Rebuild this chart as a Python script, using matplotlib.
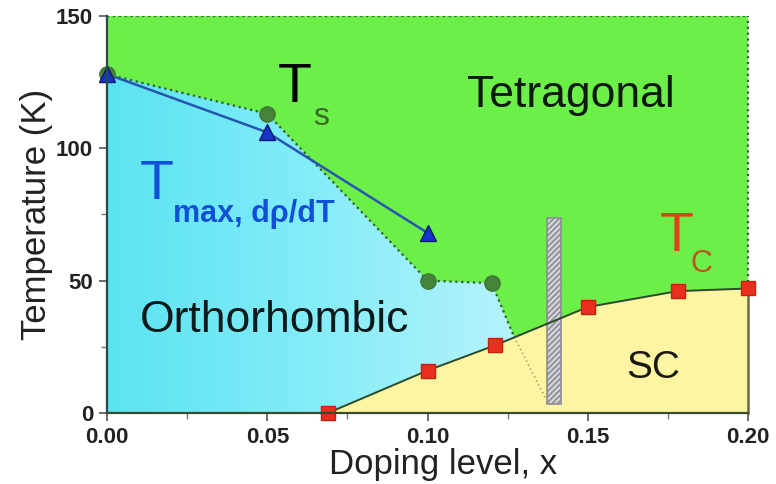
import matplotlib
matplotlib.use("Agg")
import matplotlib.pyplot as plt
from matplotlib.patches import Polygon, Rectangle
from matplotlib.colors import LinearSegmentedColormap
from matplotlib.ticker import MultipleLocator, FormatStrFormatter
import numpy as np

plt.rcParams["font.family"] = ["Liberation Sans", "DejaVu Sans"]
plt.rcParams["hatch.color"] = "#8c8c94"
plt.rcParams["hatch.linewidth"] = 1.2

# structural transition T_s (green circles)
ts_x = [0.0, 0.05, 0.10, 0.12]
ts_t = [128, 113, 50, 49]
# T_s boundary continues down into the SC dome and fades out
ts_tail_x = [0.12, 0.127, 0.137]
ts_tail_t = [49, 28.7, 5]

# maximum of d rho / dT (blue triangles)
tmax_x = [0.0, 0.05, 0.10]
tmax_t = [128, 106, 68]

# superconducting T_c (red squares)
tc_x = [0.069, 0.10, 0.121, 0.15, 0.178, 0.20]
tc_t = [0, 16, 25.5, 40, 46, 47]

# hatched bar (x range, T range)
bar_x = [0.1373, 0.1417]
bar_t = [3.5, 73.5]

fig = plt.figure(figsize=(7.76, 4.84), dpi=100)
ax = fig.add_axes([0.138, 0.147, 0.826, 0.82])
ax.set_xlim(0, 0.20)
ax.set_ylim(0, 150)
ax.set_facecolor("#6cef48")

# orthorhombic region (cyan gradient clipped to polygon)
x_meet, t_meet = ts_tail_x[1], ts_tail_t[1]
orth = [(0, 0)]
orth += [(x, t) for x, t in zip(tc_x, tc_t) if x < x_meet]
orth += [(x_meet, t_meet), (ts_tail_x[0], ts_tail_t[0])]
orth += list(zip(ts_x, ts_t))[::-1]
orth_patch = Polygon(orth, closed=True, facecolor="none", edgecolor="none")
ax.add_patch(orth_patch)
cmap = LinearSegmentedColormap.from_list("orth", ["#5ae3f2", "#84edf8", "#b8f3fb"])
grad = np.linspace(0, 1, 256).reshape(1, -1)
im = ax.imshow(grad, cmap=cmap, extent=[0, 0.13, 0, 130], aspect="auto",
               origin="lower", zorder=1)
im.set_clip_path(orth_patch)

# superconducting dome
sc = list(zip(tc_x, tc_t)) + [(tc_x[-1], 0)]
ax.add_patch(Polygon(sc, closed=True, facecolor="#fef5a2", edgecolor="none", zorder=1.5))

# hatched bar
ax.add_patch(Rectangle((bar_x[0], bar_t[0]), bar_x[1] - bar_x[0], bar_t[1] - bar_t[0],
                       facecolor="#d4d4da", edgecolor="#8c8c94", hatch="//////",
                       lw=1.2, zorder=3))

# borders of the green region
ax.axhline(150, color="#3b5a3b", ls=":", lw=1.6, zorder=2)
ax.plot([0.2, 0.2], [tc_t[-1], 150], color="#3b5a3b", ls=":", lw=1.6, zorder=2,
        clip_on=False)
ax.plot([0.2, 0.2], [0, tc_t[-1]], color="#6a6a50", lw=1.8, zorder=2, clip_on=False)

# T_s boundary
ax.plot(ts_x, ts_t, color="#2f5f2f", ls=":", lw=1.6, zorder=2)
ax.plot(ts_tail_x[:2], ts_tail_t[:2], color="#2f5f2f", ls=":", lw=1.6, zorder=2)
ax.plot(ts_tail_x[1:], ts_tail_t[1:], color="#a8a878", ls=":", lw=1.2, zorder=2)

# T_c line
ax.plot(tc_x, tc_t, color="#2b4a2b", lw=1.4, zorder=4)
ax.plot(tc_x, tc_t, ls="none", marker="s", ms=10.5, mfc="#e8301c", mec="#c8200e",
        zorder=5, clip_on=False)

ax.plot(ts_x, ts_t, ls="none", marker="o", ms=11, mfc="#45823a", mec="#3f7734",
        zorder=5, clip_on=False)

ax.plot(tmax_x, tmax_t, color="#2656b0", lw=1.8, zorder=4)
ax.plot(tmax_x, tmax_t, ls="none", marker="^", ms=11, mfc="#1433c8", mec="#0a1a70",
        zorder=6, clip_on=False)

# labels
ax.text(0.0534, 117.4, "T", fontsize=40, color="black", zorder=7)
ax.text(0.0643, 108.7, "s", fontsize=23, color="#3a6a2a", zorder=7)
ax.text(0.1448, 115.5, "Tetragonal", fontsize=32, ha="center", color="#0c1a0c", zorder=7)
ax.text(0.0103, 80.7, "T", fontsize=40, color="#1050d8", zorder=7)
ax.text(0.0206, 72.3, "max, d\u03c1/dT", fontsize=22, fontweight="bold",
        color="#1050d8", zorder=7)
ax.text(0.0103, 30.7, "Orthorhombic", fontsize=32, color="#0c1a1c", zorder=7)
ax.text(0.1725, 61, "T", fontsize=40, color="#e0401a", zorder=7)
ax.text(0.182, 53.4, "C", fontsize=22, color="#c0501e", zorder=7)
ax.text(0.1704, 13.3, "SC", fontsize=28, ha="center", color="#1a1a10", zorder=7)

# axes styling
for s in ["top", "right"]:
    ax.spines[s].set_visible(False)
ax.spines["left"].set_color("#2a4848")
ax.spines["left"].set_linewidth(1.6)
ax.spines["bottom"].set_color("#3a4a30")
ax.spines["bottom"].set_linewidth(1.6)
ax.spines["left"].set_zorder(8)
ax.spines["bottom"].set_zorder(8)

ax.xaxis.set_major_locator(MultipleLocator(0.05))
ax.xaxis.set_minor_locator(MultipleLocator(0.025))
ax.yaxis.set_major_locator(MultipleLocator(50))
ax.yaxis.set_minor_locator(MultipleLocator(25))
ax.xaxis.set_major_formatter(FormatStrFormatter("%.2f"))
ax.tick_params(which="major", direction="out", length=6, width=1.2, color="#555555",
               labelsize=16, pad=4, labelcolor="#222222")
ax.tick_params(which="minor", direction="out", length=4, width=1.0, color="#777777")
for lab in ax.get_xticklabels() + ax.get_yticklabels():
    lab.set_fontweight("bold")

ax.set_xlabel("Doping level, x", fontsize=25, color="#222222")
ax.set_ylabel("Temperature (K)", fontsize=25, color="#222222", labelpad=2)
ax.xaxis.set_label_coords(0.524, -0.088)

fig.savefig("out.png", dpi=100)
